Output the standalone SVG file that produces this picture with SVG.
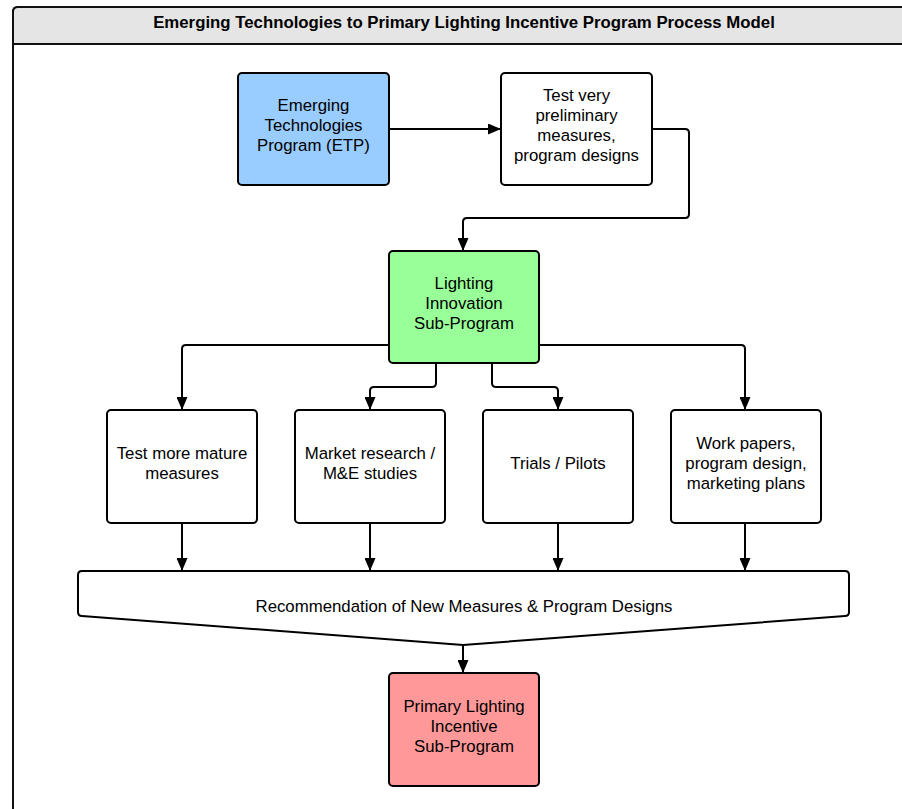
<svg xmlns="http://www.w3.org/2000/svg" width="902" height="809" viewBox="0 0 902 809">
<defs>
<marker id="ah" viewBox="0 0 13 11" refX="13" refY="5.5" markerWidth="13" markerHeight="11" markerUnits="userSpaceOnUse" orient="auto">
<path d="M0,0 L13,5.5 L0,11 z" fill="#000"/>
</marker>
<style>
.box{stroke:#000;stroke-width:2}
.t{font-family:"Liberation Sans",Arial,sans-serif;font-size:16.8px;fill:#000;text-anchor:middle}
.title{font-family:"Liberation Sans",Arial,sans-serif;font-size:16.8px;font-weight:bold;fill:#000;text-anchor:middle}
.c{fill:none;stroke:#000;stroke-width:2;marker-end:url(#ah)}
</style>
</defs>
<rect width="902" height="809" fill="#fff"/>
<g id="frame">
<path d="M13,830 L13,12 Q13,7 18,7 L930,7 L930,830" fill="#fff" stroke="#111" stroke-width="2"/>
<path d="M13,44 L13,12 Q13,7 18,7 L930,7 L930,44 Z" fill="#e5e5e5" stroke="#111" stroke-width="2"/>
<text class="title" x="464" y="28">Emerging Technologies to Primary Lighting Incentive Program Process Model</text>
</g>
<g id="connectors">
<path class="c" d="M389,129 L501,129"/>
<path class="c" d="M652,129 L685,129 Q689,129 689,133 L689,214 Q689,218 685,218 L467,218 Q463,218 463,222 L463,251"/>
<path class="c" d="M389,345 L186,345 Q182,345 182,349 L182,410"/>
<path class="c" d="M539,345 L741,345 Q745,345 745,349 L745,410"/>
<path class="c" d="M436,363 L436,383 Q436,387 432,387 L374,387 Q370,387 370,391 L370,410"/>
<path class="c" d="M492,363 L492,383 Q492,387 496,387 L554,387 Q558,387 558,391 L558,410"/>
<path class="c" d="M182,523 L182,571"/>
<path class="c" d="M370,523 L370,571"/>
<path class="c" d="M558,523 L558,571"/>
<path class="c" d="M745,523 L745,571"/>
<path class="c" d="M463,645 L463,673"/>
</g>
<g id="etp">
<rect class="box" x="238" y="73" width="151" height="112" rx="4" fill="#99ccff"/>
<text class="t" x="313.5" y="111">Emerging</text>
<text class="t" x="313.5" y="131">Technologies</text>
<text class="t" x="313.5" y="151">Program (ETP)</text>
</g>
<g id="prelim">
<rect class="box" x="501" y="73" width="151" height="112" rx="4" fill="#fff"/>
<text class="t" x="576.5" y="101">Test very</text>
<text class="t" x="576.5" y="121">preliminary</text>
<text class="t" x="576.5" y="141">measures,</text>
<text class="t" x="576.5" y="161">program designs</text>
</g>
<g id="lisp">
<rect class="box" x="389" y="251" width="150" height="112" rx="4" fill="#99ff99"/>
<text class="t" x="464" y="289">Lighting</text>
<text class="t" x="464" y="309">Innovation</text>
<text class="t" x="464" y="329">Sub-Program</text>
</g>
<g id="mature">
<rect class="box" x="107" y="410" width="150" height="113" rx="4" fill="#fff"/>
<text class="t" x="182" y="459">Test more mature</text>
<text class="t" x="182" y="479">measures</text>
</g>
<g id="market">
<rect class="box" x="295" y="410" width="150" height="113" rx="4" fill="#fff"/>
<text class="t" x="370" y="459">Market research /</text>
<text class="t" x="370" y="479">M&amp;E studies</text>
</g>
<g id="trials">
<rect class="box" x="483" y="410" width="150" height="113" rx="4" fill="#fff"/>
<text class="t" x="558" y="469">Trials / Pilots</text>
</g>
<g id="work">
<rect class="box" x="671" y="410" width="150" height="113" rx="4" fill="#fff"/>
<text class="t" x="746" y="449">Work papers,</text>
<text class="t" x="746" y="469">program design,</text>
<text class="t" x="746" y="489">marketing plans</text>
</g>
<g id="recommend">
<path class="box" d="M82,571 L845,571 Q849,571 849,575 L849,612 Q849,616 845,616 L463,645 L82,616 Q78,616 78,612 L78,575 Q78,571 82,571 Z" fill="#fff"/>
<text class="t" x="464" y="612">Recommendation of New Measures &amp; Program Designs</text>
</g>
<g id="primary">
<rect class="box" x="389" y="673" width="150" height="113" rx="4" fill="#ff9999"/>
<text class="t" x="464" y="712">Primary Lighting</text>
<text class="t" x="464" y="732">Incentive</text>
<text class="t" x="464" y="752">Sub-Program</text>
</g>
</svg>
